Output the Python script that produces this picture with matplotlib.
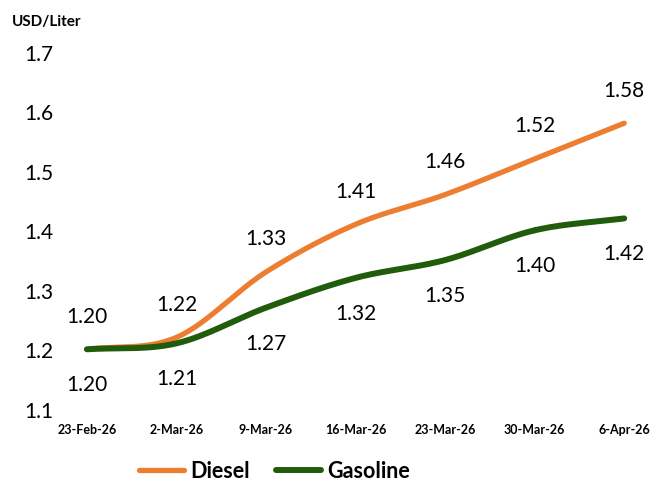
import numpy as np
import matplotlib.pyplot as plt

dates = ['23-Feb-26', '2-Mar-26', '9-Mar-26', '16-Mar-26', '23-Mar-26', '30-Mar-26', '6-Apr-26']
diesel = [1.20, 1.22, 1.33, 1.41, 1.46, 1.52, 1.58]
gasoline = [1.20, 1.21, 1.27, 1.32, 1.35, 1.40, 1.42]

ORANGE = '#ED7D31'
GREEN = '#215C0C'

plt.rcParams['font.family'] = ['Lato', 'DejaVu Sans']


def smooth(x, y, n=30):
    """Catmull-Rom curve through the points, like Excel's smoothed line."""
    x = np.asarray(x, float)
    y = np.asarray(y, float)
    px = np.concatenate([[2 * x[0] - x[1]], x, [2 * x[-1] - x[-2]]])
    py = np.concatenate([[2 * y[0] - y[1]], y, [2 * y[-1] - y[-2]]])
    xs, ys = [], []
    t = np.linspace(0, 1, n)
    for i in range(1, len(px) - 2):
        for p, out in ((px, xs), (py, ys)):
            p0, p1, p2, p3 = p[i - 1], p[i], p[i + 1], p[i + 2]
            out.append(0.5 * ((2 * p1) + (-p0 + p2) * t
                              + (2 * p0 - 5 * p1 + 4 * p2 - p3) * t ** 2
                              + (-p0 + 3 * p1 - 3 * p2 + p3) * t ** 3))
    return np.concatenate(xs), np.concatenate(ys)


fig = plt.figure(figsize=(6.69, 4.89), dpi=100)
ax = fig.add_axes([0.063, 0.162, 0.937, 0.730])

x = np.arange(len(dates))
sx, sy = smooth(x, diesel)
ax.plot(sx, sy, color=ORANGE, lw=3.8, solid_capstyle='round', label='Diesel')
gx, gy = smooth(x, gasoline)
ax.plot(gx, gy, color=GREEN, lw=4.3, solid_capstyle='round', label='Gasoline')

for xi, v in zip(x, diesel):
    ax.annotate(f'{v:.2f}', (xi, v), xytext=(0, 17), textcoords='offset points',
                ha='center', va='bottom', fontsize=15)
for xi, v in zip(x, gasoline):
    ax.annotate(f'{v:.2f}', (xi, v), xytext=(0, -18), textcoords='offset points',
                ha='center', va='top', fontsize=15)

ax.set_xlim(-0.5, 6.5)
ax.set_ylim(1.1, 1.7)
yt = np.round(np.arange(1.1, 1.71, 0.1), 1)
ax.set_yticks(yt)
ax.set_yticklabels([f'{v:.1f}' for v in yt], fontsize=15)
ax.set_xticks(x)
ax.set_xticklabels(dates, fontsize=9, fontweight='bold')
ax.tick_params(length=0)
ax.tick_params(axis='x', pad=10)
ax.tick_params(axis='y', pad=-8)
for s in ax.spines.values():
    s.set_visible(False)

fig.text(0.018, 0.955, 'USD/Liter', fontsize=11, fontweight='bold', va='center')

fig.legend(loc='center', bbox_to_anchor=(0.41, 0.035), ncol=2, frameon=False,
           prop={'size': 15.5, 'weight': 'bold'}, handlelength=2.1,
           handletextpad=0.3, columnspacing=1.2)

fig.savefig('out.png', dpi=100)
